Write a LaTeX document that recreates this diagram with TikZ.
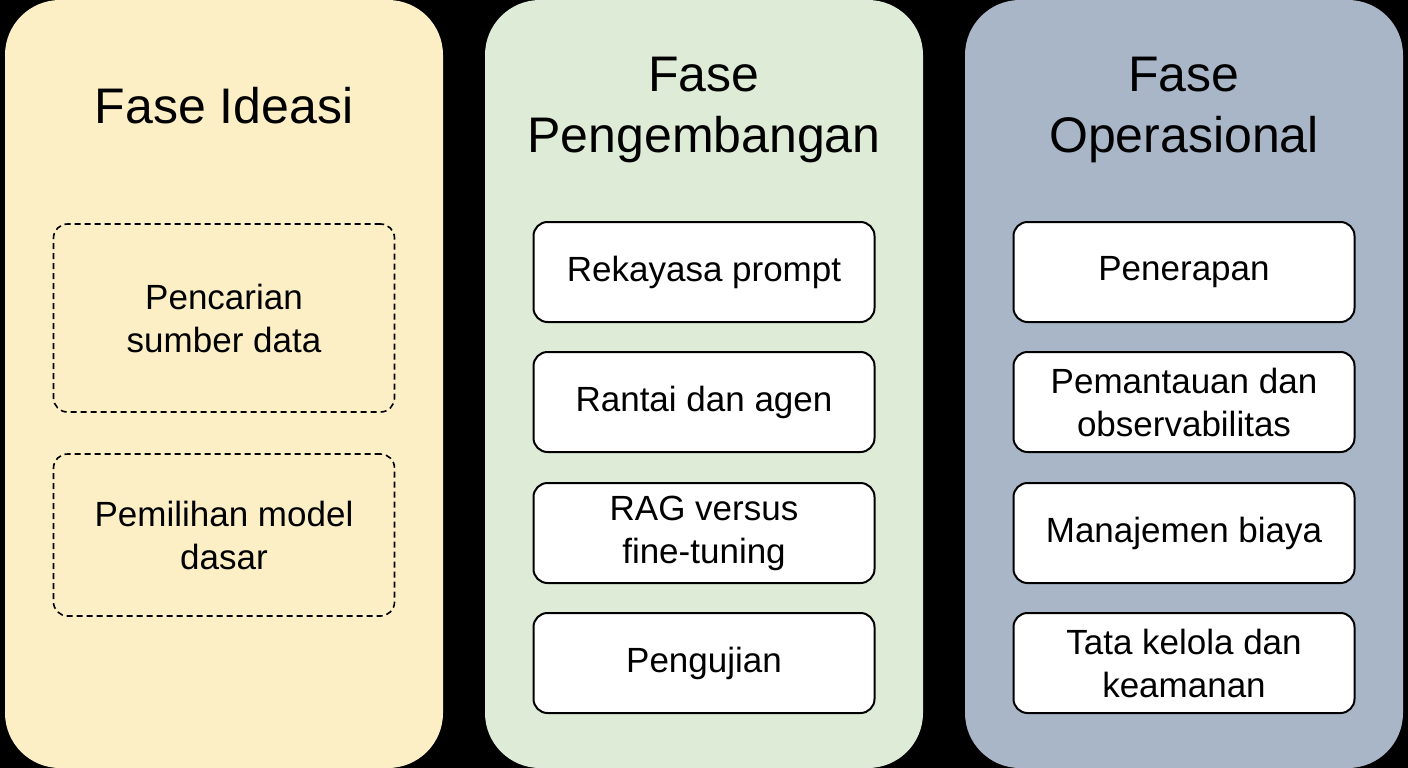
\documentclass[tikz,border=0pt]{standalone}
\usepackage{fontspec}
\setmainfont{Liberation Sans}
\begin{document}
\begin{tikzpicture}[x=1pt,y=-1pt,
 panel/.style={rounded corners=55pt},
 box/.style={draw=black,line width=2pt,fill=white,rounded corners=14pt,minimum width=341pt,align=center,font=\fontsize{35}{43}\selectfont,inner sep=0pt},
 dbox/.style={box,dash pattern=on 6pt off 4pt,fill=none,line width=1.6pt},
 ttl/.style={align=center,font=\fontsize{50}{61}\selectfont}]
\definecolor{cy}{HTML}{FCEFC6}
\definecolor{cg}{HTML}{DEEBD6}
\definecolor{cb}{HTML}{A9B6C8}
\fill[black] (0,0) rectangle (1408,768);
\useasboundingbox (0,0) rectangle (1408,768);
\fill[cy,panel] (5,0) rectangle (443,768);
\fill[cg,panel] (485,0) rectangle (923,768);
\fill[cb,panel] (965,0) rectangle (1403,768);
\node[ttl] (t1) at (224,106) {Fase Ideasi};
\node[ttl] (t2) at (704,110) {Fase\\Pengembangan};
\node[ttl] (t3) at (1184,110) {Fase\\Operasional};
\node[dbox,minimum height=188pt] (a1) at (224,318) {Pencarian\\sumber data};
\node[dbox,minimum height=162pt] (a2) at (224,535) {Pemilihan model\\dasar};
\foreach \n/\y/\t in {b1/272/Rekayasa prompt,b2/402/Rantai dan agen,b3/533/{RAG versus\\fine-tuning},b4/663/Pengujian}
 \node[box,minimum height=100pt] (\n) at (704,\y) {\t};
\foreach \n/\y/\t in {c1/272/Penerapan,c2/402/{Pemantauan dan\\observabilitas},c3/533/Manajemen biaya,c4/663/{Tata kelola dan\\keamanan}}
 \node[box,minimum height=100pt] (\n) at (1184,\y) {\t};
\end{tikzpicture}
\end{document}
